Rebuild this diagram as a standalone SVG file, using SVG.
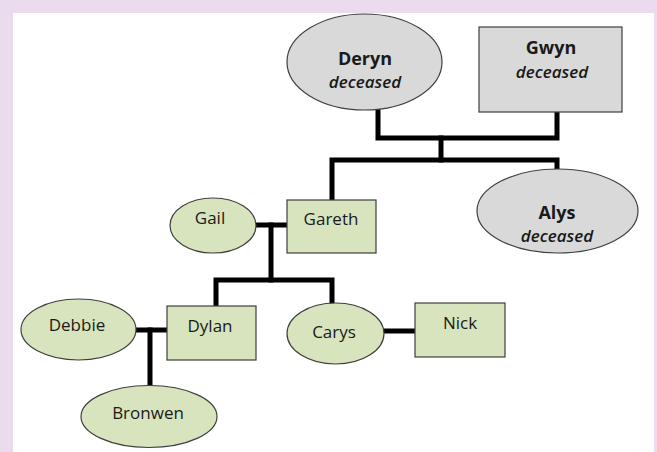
<svg xmlns="http://www.w3.org/2000/svg" width="657" height="452" viewBox="0 0 657 452">
<style>
.g{fill:#d7e4bd;stroke:#3f3f3f;stroke-width:1.2}
.d{fill:#d9d9d9;stroke:#3f3f3f;stroke-width:1.2}
text{font-family:"Open Sans","Noto Sans","Liberation Sans",sans-serif;font-size:17px;fill:#1a1a1a;text-anchor:middle}
.b{font-weight:bold;font-size:18px}
.i{font-style:italic;font-weight:600}
.c{fill:none;stroke:#000;stroke-width:5;stroke-linejoin:miter;stroke-linecap:square}
</style>
<rect x="0" y="0" width="657" height="452" fill="#eadcee"/>
<rect x="13" y="13" width="641" height="439" fill="#ffffff"/>
<g id="connectors">
<polyline class="c" points="378,110 378,138 557,138 557,112"/>
<polyline class="c" points="441,138 441,160"/>
<polyline class="c" points="332,200 332,160 557,160 557,170"/>
<polyline class="c" points="256,225 287,225"/>
<polyline class="c" points="271,225 271,280"/>
<polyline class="c" points="216,306 216,280 332,280 332,303"/>
<polyline class="c" points="136,330 167,330"/>
<polyline class="c" points="150,330 150,386"/>
<polyline class="c" points="384,331 415,331"/>
</g>
<g id="deryn"><ellipse class="d" cx="364.5" cy="62" rx="77.5" ry="48"/><text class="b" x="365" y="65">Deryn</text><text class="i" x="365" y="88">deceased</text></g>
<g id="gwyn"><rect class="d" x="479" y="27" width="143" height="85"/><text class="b" x="551" y="54">Gwyn</text><text class="i" x="552" y="78">deceased</text></g>
<g id="alys"><ellipse class="d" cx="557.5" cy="211" rx="80.5" ry="42"/><text class="b" x="557" y="219">Alys</text><text class="i" x="557" y="242">deceased</text></g>
<g id="gail"><ellipse class="g" cx="213" cy="225.5" rx="43" ry="27.5"/><text x="210" y="224">Gail</text></g>
<g id="gareth"><rect class="g" x="287" y="200" width="89" height="53"/><text x="331" y="225">Gareth</text></g>
<g id="debbie"><ellipse class="g" cx="78.5" cy="329.5" rx="57.5" ry="30.5"/><text x="77" y="331">Debbie</text></g>
<g id="dylan"><rect class="g" x="167" y="306" width="89" height="54"/><text x="210" y="332">Dylan</text></g>
<g id="carys"><ellipse class="g" cx="335.5" cy="333.5" rx="48.5" ry="30.5"/><text x="334" y="338">Carys</text></g>
<g id="nick"><rect class="g" x="415" y="303" width="90" height="54"/><text x="460" y="329">Nick</text></g>
<g id="bronwen"><ellipse class="g" cx="149" cy="416.5" rx="68" ry="31"/><text x="148" y="419">Bronwen</text></g>
</svg>
